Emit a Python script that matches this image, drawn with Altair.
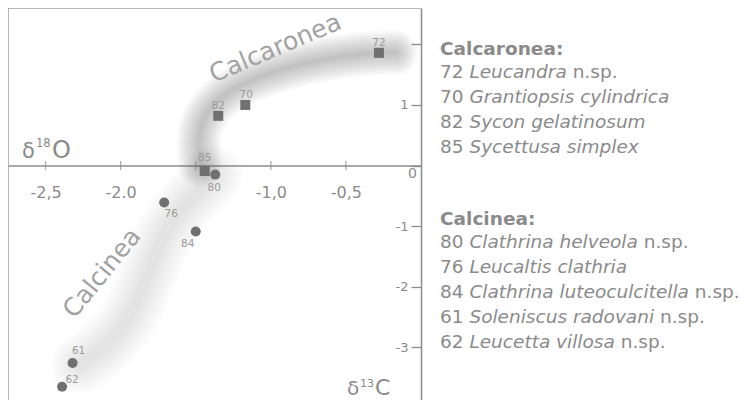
import altair as alt
import pandas as pd

# ---------------- data ----------------
calcaronea_ids = ["72", "70", "82", "85"]
calcaronea_x = [-0.28, -1.17, -1.35, -1.44]
calcaronea_y = [1.86, 1.00, 0.82, -0.09]
calcaronea_species = ["Leucandra", "Grantiopsis cylindrica", "Sycon gelatinosum", "Sycettusa simplex"]
calcaronea_nsp = [True, False, False, False]

calcinea_ids = ["80", "76", "84", "61", "62"]
calcinea_x = [-1.37, -1.71, -1.50, -2.32, -2.39]
calcinea_y = [-0.15, -0.61, -1.09, -3.26, -3.65]
calcinea_species = ["Clathrina helveola", "Leucaltis clathria", "Clathrina luteoculcitella",
                    "Soleniscus radovani", "Leucetta villosa"]
calcinea_nsp = [True, False, True, True, True]

band_calcaronea_x = [-1.47, -1.485, -1.45, -1.34, -1.185, -1.005, -0.786, -0.56, -0.34, -0.17]
band_calcaronea_y = [0.01, 0.47, 0.80, 1.13, 1.36, 1.53, 1.69, 1.79, 1.86, 1.86]
band_calcinea_x = [-1.385, -1.57, -1.70, -1.80, -1.88, -1.99, -2.14, -2.27]
band_calcinea_y = [-0.16, -0.65, -1.06, -1.64, -2.22, -2.71, -3.08, -3.29]

x_ticks = [-2.5, -2.0, -1.5, -1.0, -0.5]
x_tick_labels = ["-2,5", "-2.0", "", "-1,0", "-0,5"]
y_ticks = [2, 1, 0, -1, -2, -3]
y_tick_labels = ["", "1", "", "-1", "-2", "-3"]

# ---------------- layout ----------------
FONT = "DejaVu Sans"
W, H = 413, 392
XMIN, XMAX = -2.75, 0.0
YMIN, YMAX = -3.87, 2.60
y0 = H * YMAX / (YMAX - YMIN)
GREY_TXT = "#8a8a8a"
GREY_AX = "#8c8c8c"
GREY_MK = "#707070"

def label_expr(vals, labs):
    e = "''"
    for v, l in reversed(list(zip(vals, labs))):
        e = f"(abs(datum.value - ({v})) < 1e-6 ? '{l}' : {e})"
    return e

xscale = alt.Scale(domain=[XMIN, XMAX], nice=False, zero=False)
yscale = alt.Scale(domain=[YMIN, YMAX], nice=False, zero=False)
xaxis = alt.Axis(values=x_ticks, labelExpr=label_expr(x_ticks, x_tick_labels), orient="bottom",
                 offset=-(H - y0), ticks=False, tickSize=0, labelPadding=19, domainColor=GREY_AX,
                 domainWidth=1.5, labelColor=GREY_TXT, labelFontSize=16, labelFont=FONT,
                 title=None, grid=False, labelFlush=False, labelOverlap=False)
yaxis = alt.Axis(values=y_ticks, labelExpr=label_expr(y_ticks, y_tick_labels), orient="left",
                 offset=-W, tickSize=10, tickColor=GREY_AX, tickWidth=1.3, labelPadding=3,
                 domainColor=GREY_AX, domainWidth=1.5, labelColor=GREY_TXT, labelFontSize=13,
                 labelFont=FONT, title=None, grid=False, labelFlush=False, labelOverlap=False)

def X(f):
    return alt.X(f, scale=xscale, axis=xaxis)

def Y(f):
    return alt.Y(f, scale=yscale, axis=yaxis)

pts = pd.DataFrame({
    "id": calcaronea_ids + calcinea_ids,
    "x": calcaronea_x + calcinea_x,
    "y": calcaronea_y + calcinea_y,
    "group": ["Calcaronea"] * len(calcaronea_ids) + ["Calcinea"] * len(calcinea_ids),
})

layers = []

# soft (blurred-looking) bands: many stacked translucent strokes
band_specs = [
    (band_calcaronea_x, band_calcaronea_y, list(range(4, 48, 4)), 0.036),
    (band_calcinea_x, band_calcinea_y, list(range(8, 64, 4)), 0.011),
]
for bx, by, widths, op in band_specs:
    bdf = pd.DataFrame({"x": bx, "y": by, "i": list(range(len(bx)))})
    for w in widths:
        layers.append(alt.Chart(bdf).mark_line(strokeWidth=w, opacity=op, strokeCap="round",
                                                strokeJoin="round", interpolate="basis",
                                                color="#555555")
                      .encode(x=X("x:Q"), y=Y("y:Q"), order="i:O"))

# frame (left + top)
dummy = alt.InlineData(values=[{"a": 1}])
layers.append(alt.Chart(dummy).mark_rule(color="#a0a0a0", strokeWidth=1.5)
              .encode(x=alt.value(0), y=alt.value(0), y2=alt.value(H)))
layers.append(alt.Chart(dummy).mark_rule(color="#a0a0a0", strokeWidth=1.5)
              .encode(x=alt.value(0), x2=alt.value(W), y=alt.value(0)))

# x ticks crossing axis
tdf = pd.DataFrame({"v": x_ticks, "z": [0] * len(x_ticks)})
layers.append(alt.Chart(tdf).mark_tick(orient="vertical", size=9, thickness=1.3, color=GREY_AX)
              .encode(x=X("v:Q"), y=Y("z:Q")))

# points
layers.append(alt.Chart(pts).mark_point(filled=True, size=100, opacity=1, color=GREY_MK)
              .encode(x=X("x:Q"), y=Y("y:Q"),
                      shape=alt.Shape("group:N", scale=alt.Scale(domain=["Calcaronea", "Calcinea"],
                                                                 range=["square", "circle"]),
                                      legend=None)))

# point labels
offsets = {"72": (0, -10), "70": (1, -10), "82": (0, -10), "85": (0, -13),
           "80": (-1, 13), "76": (7, 12), "84": (-8, 12), "61": (6, -12), "62": (10, -7)}
for pid, (dx, dy) in offsets.items():
    layers.append(alt.Chart(pts).transform_filter(alt.datum.id == pid)
                  .mark_text(dx=dx, dy=dy, fontSize=10.5, font=FONT, color="#9a9a9a", baseline="middle")
                  .encode(x=X("x:Q"), y=Y("y:Q"), text="id:N"))

# group annotations along bands
layers.append(alt.Chart(dummy).mark_text(text="Calcaronea", angle=337, fontSize=25, font=FONT,
                                          color="#a2a2a2", baseline="middle", align="center")
              .encode(x=alt.datum(-0.97), y=alt.datum(1.94)))
layers.append(alt.Chart(dummy).mark_text(text="Calcinea", angle=309, fontSize=25, font=FONT,
                                          color="#a2a2a2", baseline="middle", align="center")
              .encode(x=alt.datum(-2.124), y=alt.datum(-1.774)))

# axis titles (delta notation with raised mass numbers) and origin label
def plain(s, px, py, fs, align="left"):
    return (alt.Chart(dummy).mark_text(text=s, fontSize=fs, font=FONT, color=GREY_TXT,
                                       align=align, baseline="alphabetic")
            .encode(x=alt.value(px), y=alt.value(py)))

layers += [plain("δ", 14, 150, 21), plain("18", 28, 139, 11.5), plain("O", 44, 150, 24)]
layers += [plain("δ", 339, 387, 20), plain("13", 352, 379, 11), plain("C", 367, 387, 22)]
layers.append(alt.Chart(dummy).mark_text(text="0", fontSize=14, font=FONT, color=GREY_TXT,
                                          align="right", baseline="middle", dx=-4, dy=8)
              .encode(x=alt.datum(0), y=alt.datum(0)))

# side legend
DV = {' ': 0.318, '.': 0.318, ':': 0.337, 'a': 0.613, 'b': 0.635, 'c': 0.550, 'd': 0.635,
      'e': 0.615, 'f': 0.352, 'g': 0.635, 'h': 0.634, 'i': 0.278, 'j': 0.278, 'k': 0.579,
      'l': 0.278, 'm': 0.974, 'n': 0.634, 'o': 0.612, 'p': 0.635, 'q': 0.635, 'r': 0.411,
      's': 0.521, 't': 0.392, 'u': 0.634, 'v': 0.592, 'w': 0.818, 'x': 0.592, 'y': 0.592,
      'z': 0.525, 'C': 0.698, 'G': 0.775, 'L': 0.557, 'S': 0.635}
for d in "0123456789":
    DV[d] = 0.636
FS = 18.5
LX = W + 19

def tw(s):
    return sum(DV.get(c, 0.6) for c in s) * FS

def txt(s, px, py, style="normal", weight="normal"):
    return (alt.Chart(dummy).mark_text(text=s, fontSize=FS, font=FONT, fontStyle=style,
                                       fontWeight=weight, color=GREY_TXT, align="left",
                                       baseline="alphabetic")
            .encode(x=alt.value(px), y=alt.value(py)))

def block(title, ids, names, nsp, y_title, y_first, step):
    layers.append(txt(title, LX, y_title, weight="bold"))
    for i, (n, name, ns) in enumerate(zip(ids, names, nsp)):
        yy = y_first + i * step
        layers.append(txt(n, LX, yy))
        x2 = LX + tw(n + " ")
        layers.append(txt(name, x2, yy, style="italic"))
        if ns:
            layers.append(txt("n.sp.", x2 + tw(name + " "), yy))

block("Calcaronea:", calcaronea_ids, calcaronea_species, calcaronea_nsp, 47, 70, 25)
block("Calcinea:", calcinea_ids, calcinea_species, calcinea_nsp, 217, 240, 25)

chart = (alt.layer(*layers)
         .properties(width=W, height=H, autosize=alt.AutoSizeParams(type="none"),
                     padding={"left": 0, "top": 0, "right": 324, "bottom": 0})
         .configure_view(stroke=None))

chart.save("out.html", embed_options={"renderer": "svg", "actions": False})
